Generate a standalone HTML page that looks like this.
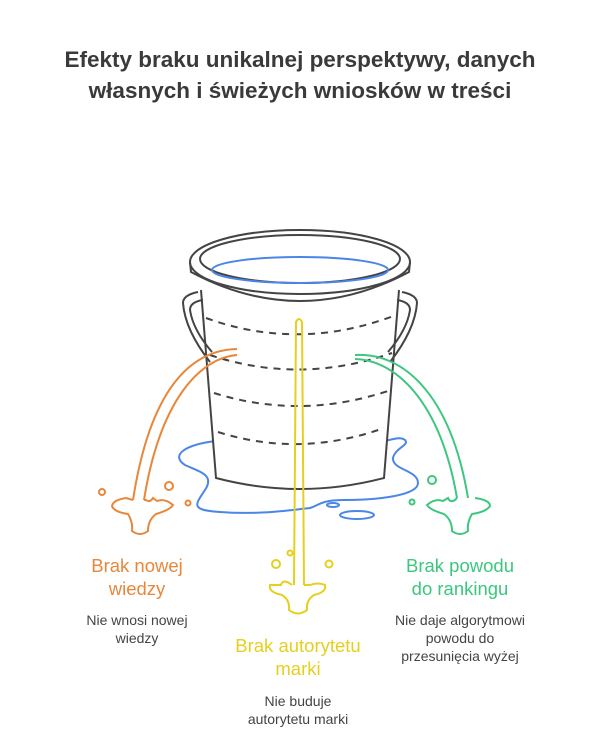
<!DOCTYPE html>
<html><head><meta charset="utf-8"><style>
body{margin:0;background:#fff;width:600px;height:744px;overflow:hidden}
svg{display:block}
text{font-family:"Liberation Sans",Arial,sans-serif}
</style></head><body>
<svg width="600" height="744" viewBox="0 0 600 744" xmlns="http://www.w3.org/2000/svg">
<text x="300" y="67" text-anchor="middle" font-size="22.5" font-weight="bold" fill="#3a3a3a">Efekty braku unikalnej perspektywy, danych</text>
<text x="300" y="98" text-anchor="middle" font-size="22.5" font-weight="bold" fill="#3a3a3a">własnych i świeżych wniosków w treści</text>

<!-- puddle -->
<g fill="none" stroke="#4a86e8" stroke-width="2">
<path d="M215,441 C185,445 170,455 185,465 C200,472 215,475 205,490 C195,505 190,510 220,512 C260,515 290,510 310,508 C320,505 320,500 345,500 C380,500 418,495 418,483 C418,470 392,470 393,458 C395,448 410,445 405,440 C400,436 390,440 385,441"/>
<ellipse cx="333" cy="505" rx="6" ry="2"/>
<ellipse cx="357" cy="515" rx="17" ry="4"/>
</g>

<!-- bucket -->
<g fill="none" stroke="#444" stroke-width="2">
<path d="M201,290 L216,478 Q300,500 384,478 L399,290" fill="#fff"/>
<path d="M190,262 L191,272 Q300,330 409,272 L410,262" fill="#fff"/>
<ellipse cx="300" cy="262" rx="110" ry="32" fill="#fff"/>
<ellipse cx="300" cy="259" rx="100" ry="24"/>
<path d="M198,292 Q183,295 183,303 Q185,330 210,362 M203,300 Q190,302 190,310 Q193,330 212,352"/>
<path d="M402,292 Q417,295 417,303 Q415,330 390,362 M397,300 Q410,302 410,310 Q407,330 388,352"/>
<g stroke-dasharray="7,6">
<path d="M206,318 Q300,352 396,315"/>
<path d="M210,355 Q300,385 392,353"/>
<path d="M214,393 Q300,420 388,391"/>
<path d="M218,432 Q300,458 384,428"/>
</g>
</g>
<ellipse cx="300" cy="270" rx="88" ry="13" fill="none" stroke="#4a86e8" stroke-width="2"/>

<!-- orange -->
<g fill="none" stroke="#e8873a" stroke-width="2">
<path d="M237,349 C190,350 150,390 133,500 M237,355 C200,358 160,400 144,500"/>
<path d="M126,498 Q113,500 112,506 Q114,512 128,514 Q133,522 132,531 Q140,537 148,531 Q148,520 156,514 Q170,510 173,505 Q165,498 157,501 L153,498 Q150,503 146,500 L144,500 M126,498 L133,500"/>
<circle cx="169" cy="486" r="4"/><circle cx="102" cy="492" r="3"/><circle cx="188" cy="503" r="2.5"/>
</g>

<!-- green -->
<g fill="none" stroke="#3cc77f" stroke-width="2">
<path d="M355,355 C400,352 450,390 468,498 M355,359 C395,360 440,400 457,498"/>
<path d="M475,498 Q490,500 490,506 Q486,512 472,514 Q467,522 468,531 Q460,537 452,531 Q452,520 444,514 Q430,510 427,505 Q435,498 443,501 L448,498 Q450,503 455,500 L457,498"/>
<circle cx="432" cy="480" r="4"/><circle cx="412" cy="502" r="2.5"/>
</g>

<!-- yellow -->
<g fill="none" stroke="#e6cf1e" stroke-width="2">
<path d="M294,585 L296,322 Q299,316 302,322 L304,585"/>
<path d="M292,585 Q283,578 281,585 Q275,585 270,585 Q268,592 282,595 Q290,600 289,610 Q298,617 307,610 Q306,600 314,595 Q327,592 325,585 Q318,582 310,585 L304,585"/>
<circle cx="276" cy="564" r="4"/><circle cx="290" cy="553" r="2.5"/><circle cx="329" cy="564" r="3.5"/>
</g>

<g text-anchor="middle">
<text x="137" y="572" font-size="18.5" fill="#e8873a">Brak nowej</text>
<text x="137" y="595" font-size="18.5" fill="#e8873a">wiedzy</text>
<text x="137" y="625" font-size="14" fill="#444">Nie wnosi nowej</text>
<text x="137" y="643" font-size="14" fill="#444">wiedzy</text>

<text x="298" y="652" font-size="18.5" fill="#e6cf1e">Brak autorytetu</text>
<text x="298" y="675" font-size="18.5" fill="#e6cf1e">marki</text>
<text x="298" y="706" font-size="14" fill="#444">Nie buduje</text>
<text x="298" y="724" font-size="14" fill="#444">autorytetu marki</text>

<text x="460" y="572" font-size="18.5" fill="#3cc77f">Brak powodu</text>
<text x="460" y="595" font-size="18.5" fill="#3cc77f">do rankingu</text>
<text x="460" y="625" font-size="14" fill="#444">Nie daje algorytmowi</text>
<text x="460" y="643" font-size="14" fill="#444">powodu do</text>
<text x="460" y="661" font-size="14" fill="#444">przesunięcia wyżej</text>
</g>
</svg>
</body></html>
